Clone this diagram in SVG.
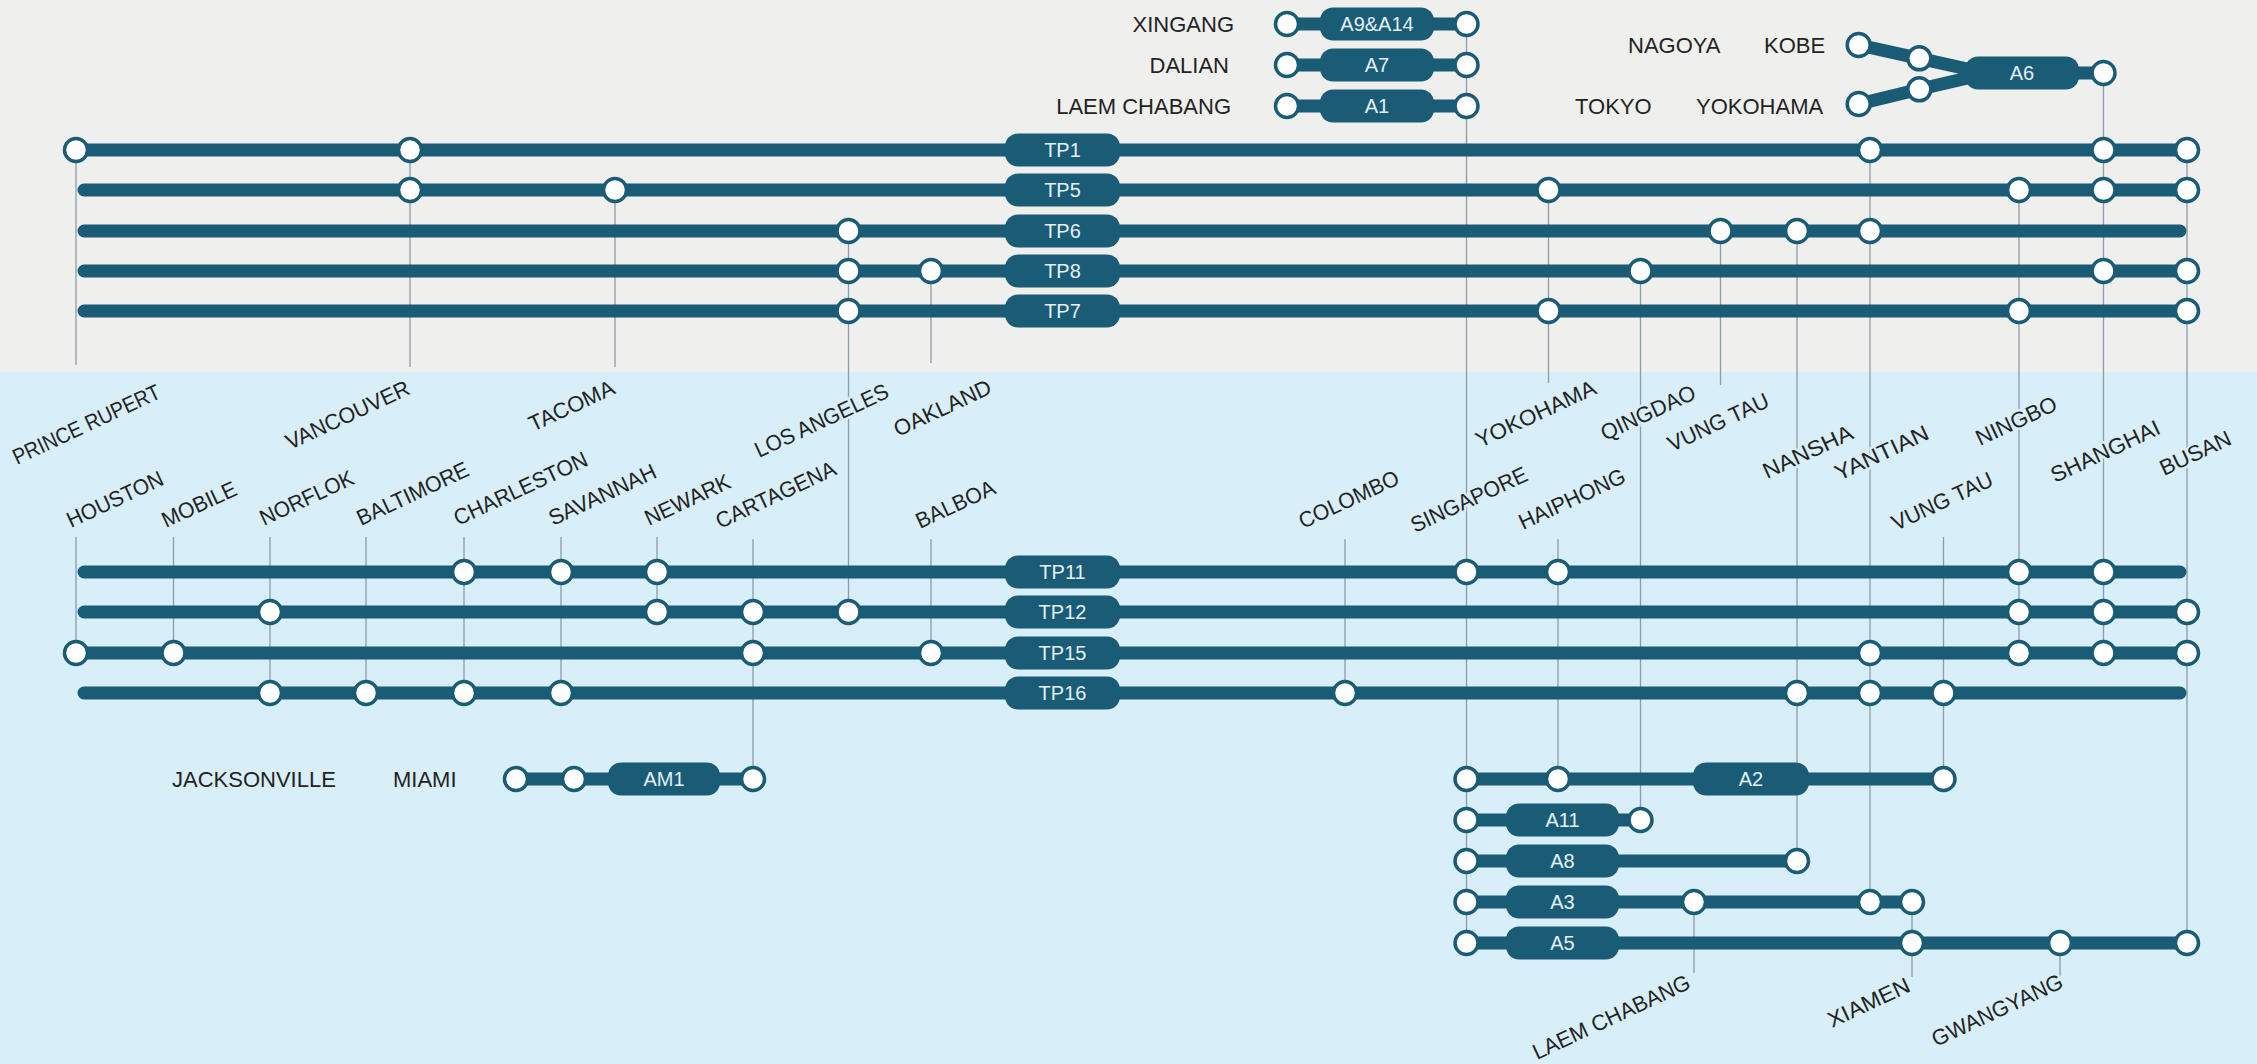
<svg xmlns="http://www.w3.org/2000/svg" xmlns:xlink="http://www.w3.org/1999/xlink" width="2257" height="1064" viewBox="0 0 2257 1064">
<style>
.bar{fill:none;stroke:#1a5b76;stroke-width:13;stroke-linecap:round;stroke-linejoin:round}
.guide{stroke:#8c9ca5;stroke-width:1.3;fill:none}
.stop{fill:#ffffff;stroke:#1a5b76;stroke-width:3.5}
.pill{fill:#1a5b76}
.ptxt{fill:#e2f1f7;font-family:"Liberation Sans","DejaVu Sans",sans-serif;font-size:20px;text-anchor:middle}
.lbl{fill:#232323;font-family:"Liberation Sans","DejaVu Sans",sans-serif;font-size:22px}
.rot{paint-order:stroke;stroke:#d8eef8;stroke-width:5;stroke-linejoin:round}
.end{text-anchor:end}
</style>
<defs>
<circle id="s" r="11.5" class="stop"/>
</defs>
<g id="background">
<rect x="0" y="0" width="2257" height="372" fill="#efefee"/>
<rect x="0" y="372" width="2257" height="692" fill="#d8eef8"/>
</g>
<g id="connectors">
<g id="guides">
<path class="guide" d="M76 150V365M410 150V367M615 190V367M848.5 231V612M931 271V363M1466.5 24V943M1548.5 190V383M1640.5 271V820M1720.5 231V385M1797 231V861M1870 150V902M2019 190V653M2103.5 73V653M2187 150V943"/>
<path class="guide" d="M76 537V653M173.5 537V653M270 537V693M366 537V693M464 537V693M561 537V693M657 537V612M753 539V779M931 539V653M1345 539V693M1558 539V779M1943.5 537V779M1694 902V973M1912 902V977M2060 943V977"/>
</g>
<g id="bars">
<path class="bar" d="M76 150H2187"/>
<path class="bar" d="M84 190H2187"/>
<path class="bar" d="M84 231H2180"/>
<path class="bar" d="M84 271H2187"/>
<path class="bar" d="M84 311H2187"/>
<path class="bar" d="M84 572H2180"/>
<path class="bar" d="M84 612H2187"/>
<path class="bar" d="M76 653H2187"/>
<path class="bar" d="M84 693H2180"/>
<path class="bar" d="M1287 24H1466.5M1287 65H1466.5M1287 106H1466.5"/>
<path class="bar" d="M1858.7 45L1919.3 58.3L1972 70M1858.7 104L1919.3 89.3L1972 77M2000 73H2103.5"/>
<path class="bar" d="M516 779H753"/>
<path class="bar" d="M1466.5 779H1943.5M1466.5 820H1640.5M1466.5 861H1797M1466.5 902H1912M1466.5 943H2187"/>
</g>
</g>
<g id="routes">
<g id="route-tp1"><rect class="pill" x="1005" y="133.5" width="115" height="33" rx="13"/><text class="ptxt" x="1062.5" y="157">TP1</text></g>
<g id="route-tp5"><rect class="pill" x="1005" y="173.5" width="115" height="33" rx="13"/><text class="ptxt" x="1062.5" y="197">TP5</text></g>
<g id="route-tp6"><rect class="pill" x="1005" y="214.5" width="115" height="33" rx="13"/><text class="ptxt" x="1062.5" y="238">TP6</text></g>
<g id="route-tp8"><rect class="pill" x="1005" y="254.5" width="115" height="33" rx="13"/><text class="ptxt" x="1062.5" y="278">TP8</text></g>
<g id="route-tp7"><rect class="pill" x="1005" y="294.5" width="115" height="33" rx="13"/><text class="ptxt" x="1062.5" y="318">TP7</text></g>
<g id="route-tp11"><rect class="pill" x="1005" y="555.5" width="115" height="33" rx="13"/><text class="ptxt" x="1062.5" y="579">TP11</text></g>
<g id="route-tp12"><rect class="pill" x="1005" y="595.5" width="115" height="33" rx="13"/><text class="ptxt" x="1062.5" y="619">TP12</text></g>
<g id="route-tp15"><rect class="pill" x="1005" y="636.5" width="115" height="33" rx="13"/><text class="ptxt" x="1062.5" y="660">TP15</text></g>
<g id="route-tp16"><rect class="pill" x="1005" y="676.5" width="115" height="33" rx="13"/><text class="ptxt" x="1062.5" y="700">TP16</text></g>
<g id="route-a9a14"><rect class="pill" x="1320" y="7.5" width="114" height="33" rx="13"/><text class="ptxt" x="1377" y="31">A9&amp;A14</text></g>
<g id="route-a7"><rect class="pill" x="1320" y="48.5" width="114" height="33" rx="13"/><text class="ptxt" x="1377" y="72">A7</text></g>
<g id="route-a1"><rect class="pill" x="1320" y="89.5" width="114" height="33" rx="13"/><text class="ptxt" x="1377" y="113">A1</text></g>
<g id="route-a6"><rect class="pill" x="1965" y="56.5" width="114" height="33" rx="13"/><text class="ptxt" x="2022" y="80">A6</text></g>
<g id="route-am1"><rect class="pill" x="608" y="762.5" width="112" height="33" rx="13"/><text class="ptxt" x="664" y="786">AM1</text></g>
<g id="route-a2"><rect class="pill" x="1693" y="762.5" width="116" height="33" rx="13"/><text class="ptxt" x="1751" y="786">A2</text></g>
<g id="route-a11"><rect class="pill" x="1506" y="803.5" width="113" height="33" rx="13"/><text class="ptxt" x="1562.5" y="827">A11</text></g>
<g id="route-a8"><rect class="pill" x="1506" y="844.5" width="113" height="33" rx="13"/><text class="ptxt" x="1562.5" y="868">A8</text></g>
<g id="route-a3"><rect class="pill" x="1506" y="885.5" width="113" height="33" rx="13"/><text class="ptxt" x="1562.5" y="909">A3</text></g>
<g id="route-a5"><rect class="pill" x="1506" y="926.5" width="113" height="33" rx="13"/><text class="ptxt" x="1562.5" y="950">A5</text></g>
</g>
<g id="ports">
<g id="port-prince-rupert"><text class="lbl rot" transform="translate(17 465) rotate(-25)" textLength="160" lengthAdjust="spacingAndGlyphs">PRINCE RUPERT</text><use href="#s" x="76" y="150"/></g>
<g id="port-vancouver"><text class="lbl rot" transform="translate(290 450) rotate(-25)" textLength="134" lengthAdjust="spacingAndGlyphs">VANCOUVER</text><use href="#s" x="410" y="150"/><use href="#s" x="410" y="190"/></g>
<g id="port-tacoma"><text class="lbl rot" transform="translate(533 432) rotate(-25)" textLength="92" lengthAdjust="spacingAndGlyphs">TACOMA</text><use href="#s" x="615" y="190"/></g>
<g id="port-los-angeles"><text class="lbl rot" transform="translate(759 458) rotate(-25)" textLength="145" lengthAdjust="spacingAndGlyphs">LOS ANGELES</text><use href="#s" x="848.5" y="231"/><use href="#s" x="848.5" y="271"/><use href="#s" x="848.5" y="311"/><use href="#s" x="848.5" y="612"/></g>
<g id="port-oakland"><text class="lbl rot" transform="translate(898 437) rotate(-25)" textLength="105" lengthAdjust="spacingAndGlyphs">OAKLAND</text><use href="#s" x="931" y="271"/></g>
<g id="port-yokohama"><text class="lbl rot" transform="translate(1480 448) rotate(-25)" textLength="130" lengthAdjust="spacingAndGlyphs">YOKOHAMA</text><use href="#s" x="1548.5" y="190"/><use href="#s" x="1548.5" y="311"/></g>
<g id="port-qingdao"><text class="lbl rot" transform="translate(1605 441) rotate(-25)" textLength="102" lengthAdjust="spacingAndGlyphs">QINGDAO</text><use href="#s" x="1640.5" y="271"/><use href="#s" x="1640.5" y="820"/></g>
<g id="port-vung-tau-top"><text class="lbl rot" transform="translate(1672 452) rotate(-25)" textLength="109" lengthAdjust="spacingAndGlyphs">VUNG TAU</text><use href="#s" x="1720.5" y="231"/></g>
<g id="port-nansha"><text class="lbl rot" transform="translate(1767 479) rotate(-25)" textLength="97" lengthAdjust="spacingAndGlyphs">NANSHA</text><use href="#s" x="1797" y="231"/><use href="#s" x="1797" y="693"/><use href="#s" x="1797" y="861"/></g>
<g id="port-yantian"><text class="lbl rot" transform="translate(1839 481) rotate(-25)" textLength="101" lengthAdjust="spacingAndGlyphs">YANTIAN</text><use href="#s" x="1870" y="150"/><use href="#s" x="1870" y="231"/><use href="#s" x="1870" y="653"/><use href="#s" x="1870" y="693"/><use href="#s" x="1870" y="902"/></g>
<g id="port-ningbo"><text class="lbl rot" transform="translate(1980 446) rotate(-25)" textLength="87" lengthAdjust="spacingAndGlyphs">NINGBO</text><use href="#s" x="2019" y="190"/><use href="#s" x="2019" y="311"/><use href="#s" x="2019" y="572"/><use href="#s" x="2019" y="612"/><use href="#s" x="2019" y="653"/></g>
<g id="port-shanghai"><text class="lbl rot" transform="translate(2055 483) rotate(-25)" textLength="118" lengthAdjust="spacingAndGlyphs">SHANGHAI</text><use href="#s" x="2103.5" y="73"/><use href="#s" x="2103.5" y="150"/><use href="#s" x="2103.5" y="190"/><use href="#s" x="2103.5" y="271"/><use href="#s" x="2103.5" y="572"/><use href="#s" x="2103.5" y="612"/><use href="#s" x="2103.5" y="653"/></g>
<g id="port-busan"><text class="lbl rot" transform="translate(2164 476) rotate(-25)" textLength="76" lengthAdjust="spacingAndGlyphs">BUSAN</text><use href="#s" x="2187" y="150"/><use href="#s" x="2187" y="190"/><use href="#s" x="2187" y="271"/><use href="#s" x="2187" y="311"/><use href="#s" x="2187" y="612"/><use href="#s" x="2187" y="653"/><use href="#s" x="2187" y="943"/></g>
<g id="port-houston"><text class="lbl rot" transform="translate(71 528) rotate(-25)" textLength="104" lengthAdjust="spacingAndGlyphs">HOUSTON</text><use href="#s" x="76" y="653"/></g>
<g id="port-mobile"><text class="lbl rot" transform="translate(166 528) rotate(-25)" textLength="80" lengthAdjust="spacingAndGlyphs">MOBILE</text><use href="#s" x="173.5" y="653"/></g>
<g id="port-norflok"><text class="lbl rot" transform="translate(264 526) rotate(-25)" textLength="101" lengthAdjust="spacingAndGlyphs">NORFLOK</text><use href="#s" x="270" y="612"/><use href="#s" x="270" y="693"/></g>
<g id="port-baltimore"><text class="lbl rot" transform="translate(361 526) rotate(-25)" textLength="121" lengthAdjust="spacingAndGlyphs">BALTIMORE</text><use href="#s" x="366" y="693"/></g>
<g id="port-charleston"><text class="lbl rot" transform="translate(458 526) rotate(-25)" textLength="145" lengthAdjust="spacingAndGlyphs">CHARLESTON</text><use href="#s" x="464" y="572"/><use href="#s" x="464" y="693"/></g>
<g id="port-savannah"><text class="lbl rot" transform="translate(553 526) rotate(-25)" textLength="116" lengthAdjust="spacingAndGlyphs">SAVANNAH</text><use href="#s" x="561" y="572"/><use href="#s" x="561" y="693"/></g>
<g id="port-newark"><text class="lbl rot" transform="translate(649 526) rotate(-25)" textLength="92" lengthAdjust="spacingAndGlyphs">NEWARK</text><use href="#s" x="657" y="572"/><use href="#s" x="657" y="612"/></g>
<g id="port-cartagena"><text class="lbl rot" transform="translate(720 529) rotate(-25)" textLength="130" lengthAdjust="spacingAndGlyphs">CARTAGENA</text><use href="#s" x="753" y="612"/><use href="#s" x="753" y="653"/><use href="#s" x="753" y="779"/></g>
<g id="port-balboa"><text class="lbl rot" transform="translate(920 529) rotate(-25)" textLength="85" lengthAdjust="spacingAndGlyphs">BALBOA</text><use href="#s" x="931" y="653"/></g>
<g id="port-colombo"><text class="lbl rot" transform="translate(1303 529) rotate(-25)" textLength="108" lengthAdjust="spacingAndGlyphs">COLOMBO</text><use href="#s" x="1345" y="693"/></g>
<g id="port-singapore"><text class="lbl rot" transform="translate(1415 533) rotate(-25)" textLength="126" lengthAdjust="spacingAndGlyphs">SINGAPORE</text><use href="#s" x="1466.5" y="24"/><use href="#s" x="1466.5" y="65"/><use href="#s" x="1466.5" y="106"/><use href="#s" x="1466.5" y="572"/><use href="#s" x="1466.5" y="779"/><use href="#s" x="1466.5" y="820"/><use href="#s" x="1466.5" y="861"/><use href="#s" x="1466.5" y="902"/><use href="#s" x="1466.5" y="943"/></g>
<g id="port-haiphong"><text class="lbl rot" transform="translate(1523 530) rotate(-25)" textLength="115" lengthAdjust="spacingAndGlyphs">HAIPHONG</text><use href="#s" x="1558" y="572"/><use href="#s" x="1558" y="779"/></g>
<g id="port-vung-tau-bottom"><text class="lbl rot" transform="translate(1896 531) rotate(-25)" textLength="109" lengthAdjust="spacingAndGlyphs">VUNG TAU</text><use href="#s" x="1943.5" y="693"/><use href="#s" x="1943.5" y="779"/></g>
<g id="port-laem-chabang-bottom"><text class="lbl rot" transform="translate(1537 1060) rotate(-25)" textLength="171" lengthAdjust="spacingAndGlyphs">LAEM CHABANG</text><use href="#s" x="1694" y="902"/></g>
<g id="port-xiamen"><text class="lbl rot" transform="translate(1832 1028) rotate(-25)" textLength="88" lengthAdjust="spacingAndGlyphs">XIAMEN</text><use href="#s" x="1912" y="902"/><use href="#s" x="1912" y="943"/></g>
<g id="port-gwangyang"><text class="lbl rot" transform="translate(1936 1047) rotate(-25)" textLength="142" lengthAdjust="spacingAndGlyphs">GWANGYANG</text><use href="#s" x="2060" y="943"/></g>
<g id="port-xingang"><text class="lbl end" x="1234" y="32">XINGANG</text><use href="#s" x="1287" y="24"/></g>
<g id="port-dalian"><text class="lbl end" x="1229" y="73">DALIAN</text><use href="#s" x="1287" y="65"/></g>
<g id="port-laem-chabang-top"><text class="lbl end" x="1231" y="114">LAEM CHABANG</text><use href="#s" x="1287" y="106"/></g>
<g id="port-nagoya"><text class="lbl" x="1628" y="53">NAGOYA</text><use href="#s" x="1858.7" y="45"/></g>
<g id="port-kobe"><text class="lbl" x="1764" y="53">KOBE</text><use href="#s" x="1919.3" y="58.3"/></g>
<g id="port-tokyo"><text class="lbl" x="1575" y="114">TOKYO</text><use href="#s" x="1858.7" y="104"/></g>
<g id="port-yokohama-a6"><text class="lbl" x="1696" y="114">YOKOHAMA</text><use href="#s" x="1919.3" y="89.3"/></g>
<g id="port-jacksonville"><text class="lbl" x="172" y="787">JACKSONVILLE</text><use href="#s" x="516" y="779"/></g>
<g id="port-miami"><text class="lbl" x="393" y="787">MIAMI</text><use href="#s" x="574" y="779"/></g>
</g>
</svg>
